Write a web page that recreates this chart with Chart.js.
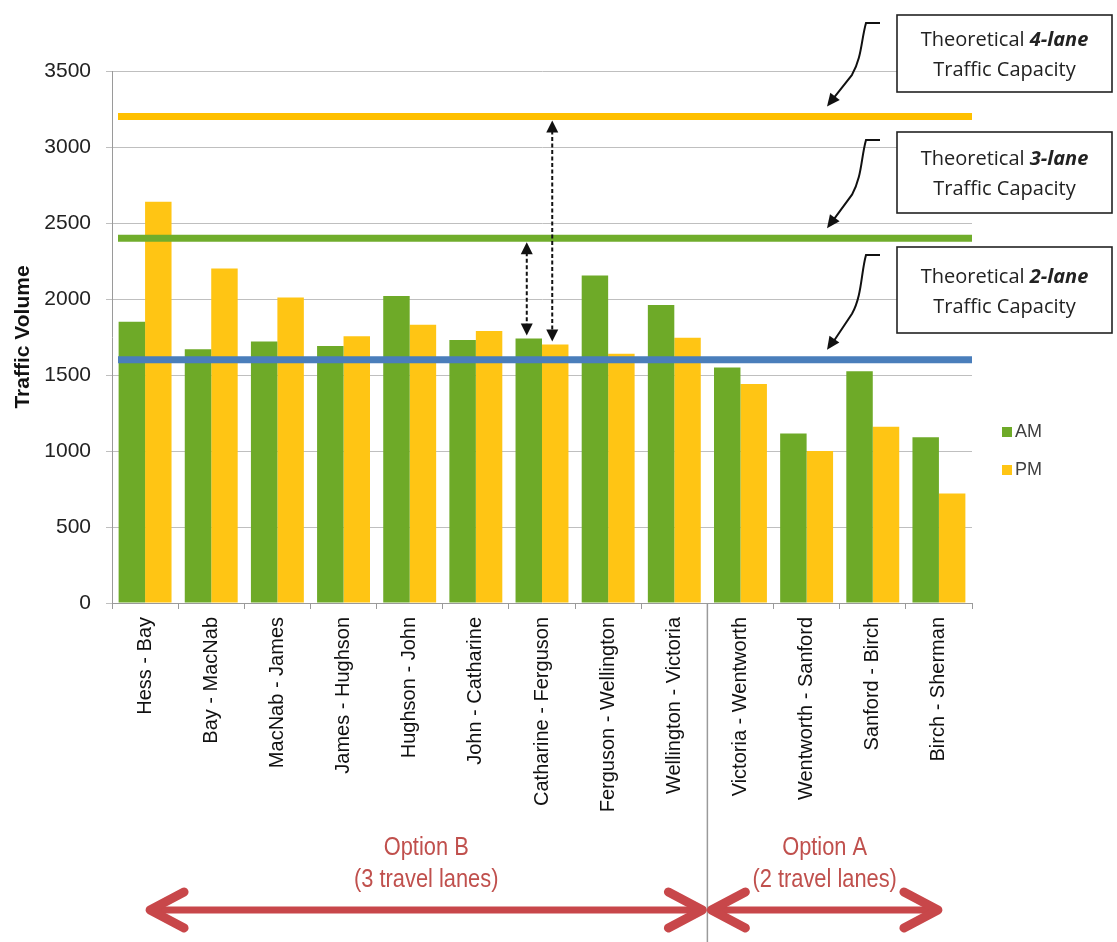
<!DOCTYPE html>
<html>
<head>
<meta charset="utf-8">
<script src="https://cdn.jsdelivr.net/npm/chart.js@4.4.1/dist/chart.umd.min.js"></script>
<style>
  html, body { margin: 0; padding: 0; background: #ffffff; }
  #wrap { width: 1117px; height: 942px; }
</style>
</head>
<body>
<div id="wrap"><canvas id="traffic" width="1117" height="942"></canvas></div>
<script>
// Road segments along the corridor, west to east
const segments = [
  'Hess - Bay', 'Bay - MacNab', 'MacNab - James', 'James - Hughson',
  'Hughson - John', 'John - Catharine', 'Catharine - Ferguson',
  'Ferguson - Wellington', 'Wellington - Victoria', 'Victoria - Wentworth',
  'Wentworth - Sanford', 'Sanford - Birch', 'Birch - Sherman'
];
// Peak-hour traffic volumes per segment
const amVolume = [1850, 1670, 1720, 1690, 2020, 1730, 1740, 2155, 1960, 1550, 1115, 1525, 1090];
const pmVolume = [2640, 2200, 2010, 1755, 1830, 1790, 1700, 1640, 1745, 1440, 1000, 1160, 720];
// Theoretical capacity by number of lanes
const capacityLanes = ['4-lane', '3-lane', '2-lane'];
const capacityValues = [3200, 2400, 1600];
// Y axis ticks
const yTickValues = [0, 500, 1000, 1500, 2000, 2500, 3000, 3500];
// Options: first segment index of each group and its captions
const optionStart = [0, 9];
const optionTitles = ['Option B', 'Option A'];
const optionLanes = ['(3 travel lanes)', '(2 travel lanes)'];

const GREEN = '#6EAA28';
const YELLOW = '#FFC514';
const CAP_COLORS = ['#FFC000', '#70AD2C', '#4A7EBB'];
const RED = '#C8474A';

function arrowHead(ctx, fromX, fromY, toX, toY, len, half) {
  const ang = Math.atan2(toY - fromY, toX - fromX);
  ctx.beginPath();
  ctx.moveTo(toX, toY);
  ctx.lineTo(toX - len * Math.cos(ang) + half * Math.sin(ang), toY - len * Math.sin(ang) - half * Math.cos(ang));
  ctx.lineTo(toX - len * Math.cos(ang) - half * Math.sin(ang), toY - len * Math.sin(ang) + half * Math.cos(ang));
  ctx.closePath();
  ctx.fill();
}

function dottedArrow(ctx, x, y1, y2) {
  ctx.save();
  ctx.strokeStyle = '#111';
  ctx.fillStyle = '#111';
  ctx.lineWidth = 2;
  ctx.setLineDash([4, 2.5]);
  ctx.beginPath();
  ctx.moveTo(x, y1 + 10);
  ctx.lineTo(x, y2 - 10);
  ctx.stroke();
  ctx.setLineDash([]);
  arrowHead(ctx, x, y2, x, y1, 12, 6);
  arrowHead(ctx, x, y1, x, y2, 12, 6);
  ctx.restore();
}

function chevronArrow(ctx, x1, x2, yy) {
  ctx.save();
  ctx.strokeStyle = RED;
  ctx.lineCap = 'round';
  ctx.lineJoin = 'round';
  ctx.lineWidth = 7;
  ctx.beginPath();
  ctx.moveTo(x1 + 4, yy);
  ctx.lineTo(x2 - 4, yy);
  ctx.stroke();
  ctx.lineWidth = 9;
  ctx.beginPath();
  ctx.moveTo(x1 + 35, yy - 18);
  ctx.lineTo(x1 + 1, yy);
  ctx.lineTo(x1 + 35, yy + 18);
  ctx.stroke();
  ctx.beginPath();
  ctx.moveTo(x2 - 35, yy - 18);
  ctx.lineTo(x2 - 1, yy);
  ctx.lineTo(x2 - 35, yy + 18);
  ctx.stroke();
  ctx.restore();
}

function capacityBox(ctx, left, top, w, h, lanes) {
  ctx.save();
  ctx.fillStyle = '#ffffff';
  ctx.fillRect(left, top, w, h);
  ctx.strokeStyle = '#222';
  ctx.lineWidth = 1.6;
  ctx.strokeRect(left, top, w, h);
  ctx.fillStyle = '#222';
  ctx.textBaseline = 'middle';
  const regular = '20px "Open Sans", sans-serif';
  const bold = 'italic bold 20px "Open Sans", sans-serif';
  ctx.font = regular;
  const a = 'Theoretical ';
  const wa = ctx.measureText(a).width;
  ctx.font = bold;
  const wb = ctx.measureText(lanes).width;
  const cx = left + w / 2;
  const y1 = top + h / 2 - 13;
  const sx = cx - (wa + wb) / 2;
  ctx.textAlign = 'left';
  ctx.font = regular;
  ctx.fillText(a, sx, y1);
  ctx.font = bold;
  ctx.fillText(lanes, sx + wa, y1);
  ctx.font = regular;
  ctx.textAlign = 'center';
  ctx.fillText('Traffic Capacity', cx, y1 + 30);
  ctx.restore();
}

function connector(ctx, stubY, tipX, tipY) {
  ctx.save();
  ctx.strokeStyle = '#111';
  ctx.fillStyle = '#111';
  ctx.lineWidth = 2;
  const bendY = stubY + (tipY - stubY) * 0.62;
  ctx.beginPath();
  ctx.moveTo(880, stubY);
  ctx.lineTo(866, stubY);
  ctx.bezierCurveTo(861, stubY + 18, 862, bendY - 18, 852, bendY);
  ctx.lineTo(tipX + 7, tipY - 9);
  ctx.stroke();
  arrowHead(ctx, 852, bendY, tipX, tipY, 13, 6);
  ctx.restore();
}

const overlay = {
  id: 'overlay',
  afterDatasetsDraw(chart) {
    const { ctx, chartArea: area, scales: { y } } = chart;
    // capacity reference lines over the bars
    capacityValues.forEach((v, i) => {
      const py = y.getPixelForValue(v);
      ctx.save();
      ctx.strokeStyle = CAP_COLORS[i];
      ctx.lineWidth = 7;
      ctx.beginPath();
      ctx.moveTo(area.left + 6, py);
      ctx.lineTo(area.right, py);
      ctx.stroke();
      ctx.restore();
    });
    // gaps between the segment volumes and the 3/4-lane capacity
    const idx = segments.indexOf('Catharine - Ferguson');
    const am = chart.getDatasetMeta(0).data[idx];
    const pm = chart.getDatasetMeta(1).data[idx];
    dottedArrow(ctx, am.x - 2, y.getPixelForValue(capacityValues[1]) + 4, am.y - 3);
    dottedArrow(ctx, pm.x - 3, y.getPixelForValue(capacityValues[0]) + 4, pm.y - 3);
  },
  afterDraw(chart) {
    const { ctx, chartArea: area, scales: { x, y } } = chart;
    // capacity call-out boxes with curved pointers
    const boxTops = [15, 132, 247];
    const boxHeights = [77, 81, 86];
    capacityLanes.forEach((lanes, i) => {
      capacityBox(ctx, 897, boxTops[i], 215, boxHeights[i], lanes);
      const lineY = y.getPixelForValue(capacityValues[i]);
      connector(ctx, boxTops[i] + 8, 827, lineY - 10);
    });

    // legend
    ctx.save();
    ctx.font = '18px "Liberation Sans", Arial, sans-serif';
    ctx.textBaseline = 'middle';
    ctx.textAlign = 'left';
    [['AM', GREEN, 432], ['PM', YELLOW, 470]].forEach(([t, c, ly]) => {
      ctx.fillStyle = c;
      ctx.fillRect(1002, ly - 5, 10, 10);
      ctx.fillStyle = '#404040';
      ctx.fillText(t, 1015, ly);
    });
    ctx.restore();

    // boundary between the two options
    const sep = (x.getPixelForValue(optionStart[1] - 1) + x.getPixelForValue(optionStart[1])) / 2;
    ctx.save();
    ctx.strokeStyle = '#9a9a9a';
    ctx.lineWidth = 1.5;
    ctx.beginPath();
    ctx.moveTo(sep, area.bottom);
    ctx.lineTo(sep, chart.height);
    ctx.stroke();
    ctx.restore();

    // option spans
    const firstC = x.getPixelForValue(0);
    const lastC = x.getPixelForValue(segments.length - 1);
    const spans = [[firstC + 4, sep - 4], [sep + 3, lastC]];
    spans.forEach(s => chevronArrow(ctx, s[0], s[1], 910));

    ctx.save();
    ctx.fillStyle = '#C0504D';
    ctx.textAlign = 'center';
    ctx.textBaseline = 'middle';
    ctx.font = '26px "Liberation Sans", Arial, sans-serif';
    spans.forEach((s, i) => {
      const cx = (s[0] + s[1]) / 2;
      ctx.save();
      ctx.translate(cx, 0);
      ctx.scale(0.84, 1);
      ctx.fillText(optionTitles[i], 0, 848);
      ctx.fillText(optionLanes[i], 0, 880);
      ctx.restore();
    });
    ctx.restore();
  }
};

new Chart(document.getElementById('traffic'), {
  type: 'bar',
  data: {
    labels: segments,
    datasets: [
      { label: 'AM', data: amVolume, backgroundColor: GREEN, borderWidth: 0 },
      { label: 'PM', data: pmVolume, backgroundColor: YELLOW, borderWidth: 0 }
    ]
  },
  options: {
    responsive: false,
    animation: false,
    devicePixelRatio: 1,
    layout: { padding: { top: 71, right: 145, left: 0, bottom: 0 } },
    datasets: { bar: { categoryPercentage: 0.8, barPercentage: 1.0 } },
    plugins: { legend: { display: false }, tooltip: { enabled: false } },
    scales: {
      x: {
        afterFit(scale) { scale.height = 339; },
        grid: { drawOnChartArea: false, drawTicks: true, tickLength: 6, color: '#9a9a9a', offset: true },
        border: { display: true, color: '#9a9a9a' },
        ticks: {
          autoSkip: false, maxRotation: 90, minRotation: 90, padding: 8,
          color: '#111', font: { family: '"Liberation Sans", Arial, sans-serif', size: 20 }
        }
      },
      y: {
        min: 0, max: 3500,
        afterFit(scale) { scale.width = 112; },
        afterBuildTicks(scale) { scale.ticks = yTickValues.map(v => ({ value: v })); },
        grid: { color: '#BFBFBF', lineWidth: 1, tickLength: 6 },
        border: { display: true, color: '#9a9a9a' },
        ticks: {
          padding: 15, color: '#222',
          font: { family: '"Liberation Sans", Arial, sans-serif', size: 21 },
          callback: v => String(v)
        },
        title: {
          display: true, text: 'Traffic Volume', color: '#111',
          font: { family: '"Liberation Sans", Arial, sans-serif', size: 21, weight: 'bold' },
          padding: { top: 11, bottom: 0 }
        }
      }
    }
  },
  plugins: [overlay]
});
</script>
</body>
</html>
